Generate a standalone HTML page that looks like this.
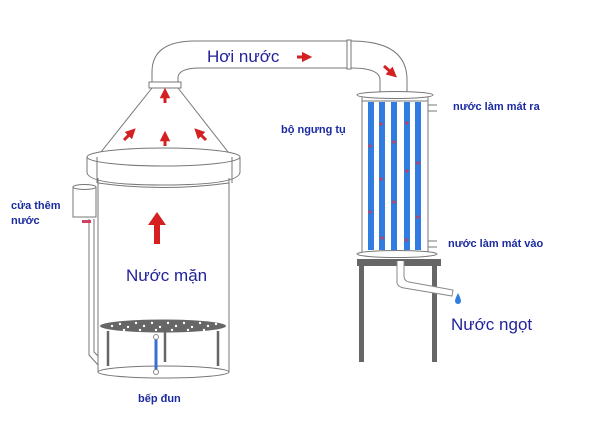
<!DOCTYPE html>
<html><head><meta charset="utf-8"><style>
html,body{margin:0;padding:0;background:#fff}
svg{display:block}
text{font-family:"Liberation Sans",sans-serif}
</style></head><body>
<svg width="600" height="432" viewBox="0 0 600 432" xmlns="http://www.w3.org/2000/svg">
<defs>
<marker id="ah" viewBox="0 0 10 10" refX="5" refY="5" markerWidth="3.5" markerHeight="3.5" orient="auto"><path d="M0,0 L10,5 L0,10 z" fill="#d42020"/></marker>
</defs>
<rect width="600" height="432" fill="#fff"/>
<g fill="none" stroke="#777" stroke-width="1">
<path d="M152,83 L152,72 Q152,41 195,41 L347,41"/>
<path d="M178,83 L178,78 Q178,68 200,68 L347,68"/>
<path d="M351,41 Q407,41 407,80 L407,92"/>
<path d="M351,68 Q380,68 380,80 L380,92"/>
<rect x="347" y="40" width="4" height="29" fill="#fff"/>
<rect x="149" y="82" width="32" height="6" fill="#fff"/>
<path d="M152,88 L97,157"/>
<path d="M178,88 L232,157"/>
<path d="M87,157 L87,172 Q87,185 163,185 Q240,185 240,172 L240,157"/>
<ellipse cx="163.5" cy="157" rx="76.5" ry="9" fill="#fff"/>
<line x1="97" y1="157" x2="97" y2="183"/><line x1="232" y1="157" x2="232" y2="183"/>
<line x1="98" y1="178" x2="98" y2="372"/>
<line x1="229" y1="178" x2="229" y2="372"/>
<path d="M98,183 Q163,192 229,183"/>
<ellipse cx="163.5" cy="372" rx="65.5" ry="6"/>
<rect x="73" y="187" width="23" height="30" fill="#fff"/>
<ellipse cx="84.5" cy="187" rx="11.5" ry="2.5" fill="#fff"/>
<path d="M89,219 L89,355 L98,365"/>
<path d="M94,219 L94,352 L98,356"/>
</g>
<rect x="82" y="220" width="9" height="3" fill="#d04060"/>
<ellipse cx="163" cy="326" rx="63" ry="6.5" fill="#666"/>
<g fill="#fff">
<circle cx="112" cy="326" r="1.2"/><circle cx="120" cy="324" r="1.2"/><circle cx="128" cy="327" r="1.2"/><circle cx="136" cy="323" r="1.2"/><circle cx="144" cy="326" r="1.2"/><circle cx="152" cy="323" r="1.2"/><circle cx="160" cy="327" r="1.2"/><circle cx="168" cy="323" r="1.2"/><circle cx="176" cy="326" r="1.2"/><circle cx="184" cy="323" r="1.2"/><circle cx="192" cy="327" r="1.2"/><circle cx="200" cy="323" r="1.2"/><circle cx="208" cy="326" r="1.2"/><circle cx="216" cy="324" r="1.2"/><circle cx="124" cy="330" r="1.2"/><circle cx="140" cy="330" r="1.2"/><circle cx="156" cy="330" r="1.2"/><circle cx="172" cy="330" r="1.2"/><circle cx="188" cy="330" r="1.2"/><circle cx="204" cy="330" r="1.2"/>
</g>
<g stroke="#666" stroke-width="2.5"><line x1="108" y1="331" x2="108" y2="366"/><line x1="165" y1="331" x2="165" y2="362"/><line x1="218" y1="331" x2="218" y2="366"/></g>
<line x1="156" y1="338" x2="156" y2="371" stroke="#3a6fd0" stroke-width="3"/>
<circle cx="156" cy="337" r="2.5" fill="#fff" stroke="#888"/><circle cx="156" cy="372" r="2.5" fill="#fff" stroke="#888"/>
<g fill="none" stroke="#777">
<rect x="362" y="96" width="66" height="158" fill="#fff"/>
<ellipse cx="395" cy="95" rx="38" ry="3.5" fill="#fff"/>
<line x1="362" y1="101" x2="428" y2="101"/>
<path d="M428,105 L437,105 M428,111 L437,111 M428,241 L437,241 M428,247 L437,247"/>
<ellipse cx="397" cy="254" rx="40" ry="3.5" fill="#fff"/>
</g>
<g fill="#2f7de0">
<rect x="368" y="102" width="6" height="148"/><rect x="379" y="102" width="6" height="148"/><rect x="391" y="102" width="6" height="148"/><rect x="404" y="102" width="6" height="148"/><rect x="415" y="102" width="6" height="148"/>
</g>
<g fill="#c04060"><circle cx="381" cy="124" r="1.6"/><circle cx="407" cy="123" r="1.6"/><circle cx="370" cy="146" r="1.6"/><circle cx="394" cy="142" r="1.6"/><circle cx="418" cy="163" r="1.6"/><circle cx="407" cy="171" r="1.6"/><circle cx="381" cy="179" r="1.6"/><circle cx="394" cy="202" r="1.6"/><circle cx="370" cy="212" r="1.6"/><circle cx="418" cy="217" r="1.6"/><circle cx="382" cy="238" r="1.6"/><circle cx="406" cy="240" r="1.6"/></g>
<rect x="357" y="259" width="84" height="7" fill="#666"/>
<rect x="359" y="265" width="5" height="97" fill="#666"/>
<rect x="432" y="265" width="5" height="97" fill="#666"/>
<path d="M397,261 L397,283 Q398,287 404,288 L452,296 L453,290 L409,282 Q404,281 404,276 L404,261" fill="#fff" stroke="#888"/>
<path d="M458,293 Q455,299 455,301 A3,3 0 0 0 461,301 Q461,299 458,293z" fill="#2f7de0"/>
<g stroke="#d42020" stroke-width="3" fill="none" marker-end="url(#ah)">
<line x1="165" y1="103" x2="165" y2="93"/>
<line x1="165" y1="146" x2="165" y2="136"/>
<line x1="124" y1="140" x2="132" y2="132"/>
<line x1="206" y1="140" x2="198" y2="132"/>
<line x1="297" y1="57" x2="307" y2="57"/>
<line x1="384" y1="66" x2="393" y2="74"/>
</g>
<path d="M157,212 L166,225 L160,225 L160,244 L154,244 L154,225 L148,225 Z" fill="#d42020"/>
<g fill="#22229a">
<text x="207" y="62" font-size="17">Hơi nước</text>
<text x="126" y="281" font-size="17">Nước mặn</text>
<text x="451" y="330" font-size="17">Nước ngọt</text>
</g>
<g fill="#1a2aa0" font-weight="bold" font-size="11">
<text x="281" y="133">bộ ngưng tụ</text>
<text x="453" y="110">nước làm mát ra</text>
<text x="448" y="247">nước làm mát vào</text>
<text x="11" y="209">cửa thêm</text>
<text x="11" y="224">nước</text>
<text x="138" y="402">bếp đun</text>
</g>
</svg>
</body></html>
